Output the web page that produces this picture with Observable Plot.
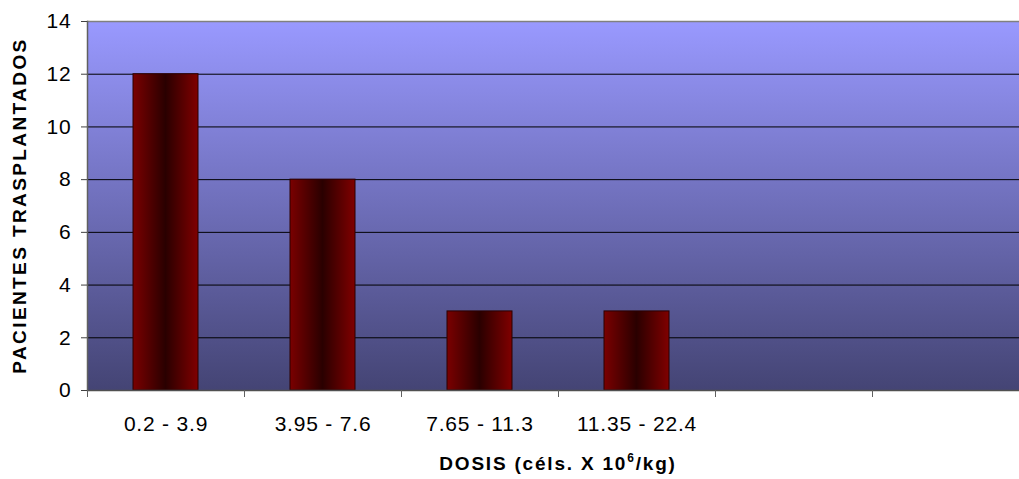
<!DOCTYPE html>
<html><head><meta charset="utf-8">
<script src="https://cdn.jsdelivr.net/npm/d3@7"></script>
<script src="https://cdn.jsdelivr.net/npm/@observablehq/plot@0.6"></script>
<style>body{margin:0;background:#fff;} svg{display:block}</style>
</head><body><div id="chart"></div>
<script>
const categories = ["0.2 - 3.9", "3.95 - 7.6", "7.65 - 11.3", "11.35 - 22.4", "(vacío 1)", "(vacío 2)"];
const emptyCats = ["(vacío 1)", "(vacío 2)"];
const values = [12, 8, 3, 3];
const yTicks = [0, 2, 4, 6, 8, 10, 12, 14];
const yTitle = "PACIENTES TRASPLANTADOS";
const xTitleParts = ["DOSIS (céls. X 10", "6", "/kg)"];

const data = categories.slice(0, values.length).map((c, i) => ({cat: c, n: values[i]}));

const W = 1019, H = 479, mL = 87, mT = 21, mB = 89;
const step = 157;
const font = "'Liberation Sans', Arial, sans-serif";

const chart = Plot.plot({
  width: W, height: H,
  marginLeft: mL, marginRight: 0, marginTop: mT, marginBottom: mB,
  style: {fontFamily: font, fontSize: "21px", letterSpacing: "0.8px", background: "#fff", color: "#000"},
  x: {domain: categories, range: [mL, mL + categories.length * step], padding: 0},
  y: {domain: [0, 14]},
  marks: [
    Plot.frame({fill: "url(#bgGrad)", stroke: "none"}),
    Plot.ruleY(yTicks.filter(v => v > 0 && v < 14), {stroke: "#000", strokeWidth: 1}),
    Plot.ruleY([14], {stroke: "#808080", strokeWidth: 1.5}),
    Plot.barY(data, {x: "cat", y: "n", fill: "url(#barGrad)", stroke: "#2a0000", strokeWidth: 1, insetLeft: 46, insetRight: 46}),
    Plot.ruleY([0], {stroke: "#505050", strokeWidth: 1.5}),
    Plot.frame({anchor: "left", stroke: "#606060", strokeWidth: 1.5}),
    Plot.axisY({ticks: yTicks, tickSize: 6, tickPadding: 10, fontSize: 21, label: null, stroke: "#404040"}),
    Plot.axisX({tickSize: 0, tickPadding: 26, fontSize: 21, label: null, tickFormat: d => emptyCats.includes(d) ? "" : d}),
    Plot.axisX({tickSize: 7, tickFormat: null, label: null, dx: -step / 2, stroke: "#606060"})
  ]
});

document.getElementById("chart").appendChild(chart);

const svg = d3.select(chart);
const defs = svg.insert("defs", ":first-child");
const bg = defs.append("linearGradient").attr("id", "bgGrad").attr("x1", 0).attr("y1", 0).attr("x2", 0).attr("y2", 1);
bg.append("stop").attr("offset", "0%").attr("stop-color", "#9999ff");
bg.append("stop").attr("offset", "100%").attr("stop-color", "#444474");
const bar = defs.append("linearGradient").attr("id", "barGrad").attr("x1", 0).attr("y1", 0).attr("x2", 1).attr("y2", 0);
bar.append("stop").attr("offset", "0%").attr("stop-color", "#7a0000");
bar.append("stop").attr("offset", "50%").attr("stop-color", "#2a0000");
bar.append("stop").attr("offset", "100%").attr("stop-color", "#800000");

// Y title
svg.append("text")
  .attr("transform", `translate(26,205.5) rotate(-90)`)
  .attr("text-anchor", "middle")
  .attr("font-family", font).attr("font-weight", "bold").attr("font-size", 19)
  .attr("letter-spacing", "2.4px").attr("fill", "#000")
  .text(yTitle);

// X title with superscript
const xt = svg.append("text")
  .attr("x", mL + categories.length * step / 2).attr("y", 470)
  .attr("text-anchor", "middle")
  .attr("font-family", font).attr("font-weight", "bold").attr("font-size", 19)
  .attr("letter-spacing", "1.8px").attr("fill", "#000");
xt.append("tspan").text(xTitleParts[0]);
xt.append("tspan").attr("dy", -8).attr("font-size", 12).text(xTitleParts[1]);
xt.append("tspan").attr("dy", 8).text(xTitleParts[2]);
</script></body></html>
